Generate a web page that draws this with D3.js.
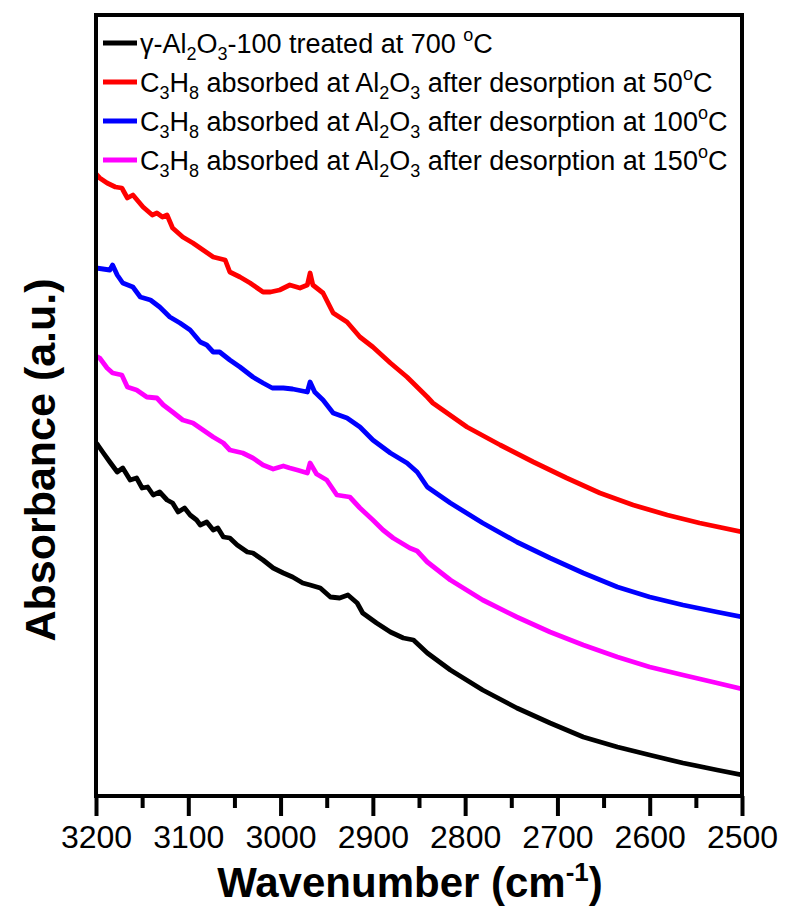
<!DOCTYPE html>
<html>
<head>
<meta charset="utf-8">
<script src="https://cdn.jsdelivr.net/npm/d3@7"></script>
<style>
  html, body { margin: 0; padding: 0; background: #fff; }
  svg { display: block; font-family: Arial, "Liberation Sans", sans-serif; }
</style>
</head>
<body>
<svg id="chart" width="785" height="911"></svg>
<script>
// FTIR spectra, 3200–2500 cm-1 (absorbance in arbitrary units, curves offset)
const blackWn = [3200,3198,3192,3185,3177,3171,3163,3156,3150,3144,3138,3131,3123,3117,3111,3104,3098,3091,3087,3080,3073,3068,3062,3055,3047,3036,3030,3019,3008,2997,2987,2976,2968,2957,2946,2936,2927,2917,2911,2896,2881,2867,2856,2841,2816,2781,2744,2708,2672,2635,2600,2564,2527,2500];
const blackAbs = [3.53,3.51,3.43,3.34,3.24,3.28,3.16,3.18,3.08,3.09,3.01,3.04,2.96,2.93,2.84,2.88,2.81,2.76,2.71,2.74,2.66,2.68,2.59,2.58,2.51,2.44,2.43,2.36,2.28,2.23,2.19,2.13,2.11,2.08,1.99,1.98,2.01,1.93,1.83,1.73,1.64,1.58,1.56,1.43,1.26,1.06,0.88,0.73,0.59,0.49,0.41,0.33,0.26,0.21];

const redWn = [3200,3196,3188,3179,3172,3166,3160,3149,3139,3134,3128,3123,3117,3106,3095,3084,3073,3060,3055,3044,3033,3019,3011,3001,2990,2979,2971,2968,2965,2954,2943,2928,2914,2900,2881,2863,2841,2835,2798,2762,2726,2690,2654,2618,2581,2546,2500];
const redAbs = [6.22,6.18,6.13,6.09,6.08,5.98,6.01,5.89,5.81,5.83,5.79,5.81,5.68,5.59,5.53,5.46,5.39,5.36,5.24,5.19,5.13,5.04,5.04,5.06,5.11,5.08,5.11,5.23,5.11,5.03,4.83,4.74,4.59,4.49,4.33,4.19,3.99,3.93,3.69,3.51,3.34,3.18,3.03,2.91,2.81,2.73,2.64];

const blueWn = [3200,3185,3182,3177,3171,3160,3152,3141,3131,3120,3109,3098,3087,3080,3073,3066,3055,3044,3030,3019,3009,2997,2987,2971,2968,2963,2954,2943,2928,2914,2900,2881,2863,2852,2841,2816,2781,2744,2708,2672,2635,2600,2564,2527,2500];
const blueAbs = [5.28,5.26,5.31,5.21,5.13,5.09,4.99,4.96,4.89,4.79,4.73,4.66,4.54,4.51,4.44,4.44,4.36,4.29,4.19,4.13,4.08,4.08,4.07,4.04,4.14,4.04,3.96,3.83,3.78,3.69,3.56,3.43,3.33,3.24,3.09,2.93,2.73,2.54,2.38,2.23,2.09,1.99,1.91,1.84,1.79];

const magentaWn = [3200,3196,3188,3182,3172,3166,3156,3145,3134,3127,3117,3106,3095,3084,3073,3062,3055,3041,3030,3019,3008,2997,2990,2982,2971,2968,2961,2950,2939,2925,2914,2900,2889,2878,2860,2852,2841,2816,2781,2744,2708,2672,2635,2600,2564,2527,2500];
const magentaAbs = [4.40,4.38,4.28,4.23,4.21,4.09,4.06,3.99,3.98,3.91,3.84,3.76,3.73,3.66,3.59,3.53,3.46,3.43,3.38,3.31,3.27,3.30,3.28,3.26,3.23,3.33,3.22,3.16,3.01,2.99,2.88,2.76,2.66,2.58,2.48,2.45,2.34,2.16,1.96,1.79,1.64,1.51,1.39,1.29,1.21,1.13,1.07];

const xTicks = [3200,3100,3000,2900,2800,2700,2600,2500];
const xMinorTicks = [3150,3050,2950,2850,2750,2650,2550];

const seriesColors = ["#000000","#ff0000","#0000ff","#ff00ff"];

const series = [
  {wn: blackWn, abs: blackAbs, color: seriesColors[0]},
  {wn: redWn, abs: redAbs, color: seriesColors[1]},
  {wn: blueWn, abs: blueAbs, color: seriesColors[2]},
  {wn: magentaWn, abs: magentaAbs, color: seriesColors[3]}
];

const svg = d3.select("#chart");
const plot = {left: 96, right: 742, top: 15, bottom: 796};

const x = d3.scaleLinear().domain([3200, 2500]).range([plot.left, plot.right]);
const y = d3.scaleLinear().domain([0, 7.81]).range([plot.bottom, plot.top]);

// curves
const line = d3.line().x(d => x(d[0])).y(d => y(d[1]));
svg.append("clipPath").attr("id", "plotclip")
  .append("rect").attr("x", plot.left).attr("y", plot.top)
  .attr("width", plot.right - plot.left).attr("height", plot.bottom - plot.top);

svg.append("g").attr("clip-path", "url(#plotclip)")
  .selectAll("path").data(series).join("path")
  .attr("d", s => line(s.wn.map((w, i) => [w, s.abs[i]])))
  .attr("fill", "none")
  .attr("stroke", s => s.color)
  .attr("stroke-width", 4.8)
  .attr("stroke-linejoin", "round")
  .attr("stroke-linecap", "round");

// x axis: major and minor ticks pointing outward
const axisG = svg.append("g").attr("transform", `translate(0,${plot.bottom})`);
axisG.call(d3.axisBottom(x).tickValues(xTicks).tickSize(20).tickSizeOuter(0).tickFormat(d3.format("d")))
  .call(g => g.select(".domain").remove())
  .call(g => g.selectAll(".tick line").attr("stroke", "#000").attr("stroke-width", 4))
  .call(g => g.selectAll(".tick text").attr("y", 29).attr("dy", "0.71em")
    .attr("font-size", 32).attr("font-family", "Arial, 'Liberation Sans', sans-serif").attr("fill", "#000"));
svg.append("g").attr("transform", `translate(0,${plot.bottom})`)
  .call(d3.axisBottom(x).tickValues(xMinorTicks).tickSize(12).tickFormat(""))
  .call(g => g.select(".domain").remove())
  .call(g => g.selectAll(".tick line").attr("stroke", "#000").attr("stroke-width", 4));

// frame
svg.append("rect")
  .attr("x", plot.left).attr("y", plot.top)
  .attr("width", plot.right - plot.left).attr("height", plot.bottom - plot.top)
  .attr("fill", "none").attr("stroke", "#000").attr("stroke-width", 4);

// axis titles
const xt = svg.append("text").attr("x", 410).attr("y", 897)
  .attr("text-anchor", "middle").attr("font-weight", "bold").attr("font-size", 42);
xt.append("tspan").text("Wavenumber (cm");
xt.append("tspan").attr("font-size", 26).attr("dy", -16).text("-1");
xt.append("tspan").attr("dy", 16).text(")");

svg.append("text")
  .attr("transform", "translate(55,460) rotate(-90)")
  .attr("text-anchor", "middle").attr("font-weight", "bold").attr("font-size", 43)
  .text("Absorbance (a.u.)");

// legend
const legendRows = [
  {color: seriesColors[0], parts: [["γ-Al",""],["2","sub"],["O",""],["3","sub"],["-100 treated at 700 ",""],["o","sup"],["C",""]]},
  {color: seriesColors[1], parts: [["C",""],["3","sub"],["H",""],["8","sub"],[" absorbed at Al",""],["2","sub"],["O",""],["3","sub"],[" after desorption at 50",""],["o","sup"],["C",""]]},
  {color: seriesColors[2], parts: [["C",""],["3","sub"],["H",""],["8","sub"],[" absorbed at Al",""],["2","sub"],["O",""],["3","sub"],[" after desorption at 100",""],["o","sup"],["C",""]]},
  {color: seriesColors[3], parts: [["C",""],["3","sub"],["H",""],["8","sub"],[" absorbed at Al",""],["2","sub"],["O",""],["3","sub"],[" after desorption at 150",""],["o","sup"],["C",""]]}
];
const legendY = [43, 82, 121, 160];
const legend = svg.append("g");
legendRows.forEach((row, i) => {
  const cy = legendY[i];
  legend.append("line").attr("x1", 103).attr("x2", 137).attr("y1", cy).attr("y2", cy)
    .attr("stroke", row.color).attr("stroke-width", 5);
  const t = legend.append("text").attr("x", 140).attr("y", cy + 10).attr("font-size", 27).attr("fill", "#000");
  let shift = 0;
  row.parts.forEach(([txt, kind]) => {
    let target = 0, size = 27;
    if (kind === "sub") { target = 7; size = 18; }
    if (kind === "sup") { target = -12; size = 18; }
    t.append("tspan").attr("dy", target - shift).attr("font-size", size).text(txt);
    shift = target;
  });
});
</script>
</body>
</html>
